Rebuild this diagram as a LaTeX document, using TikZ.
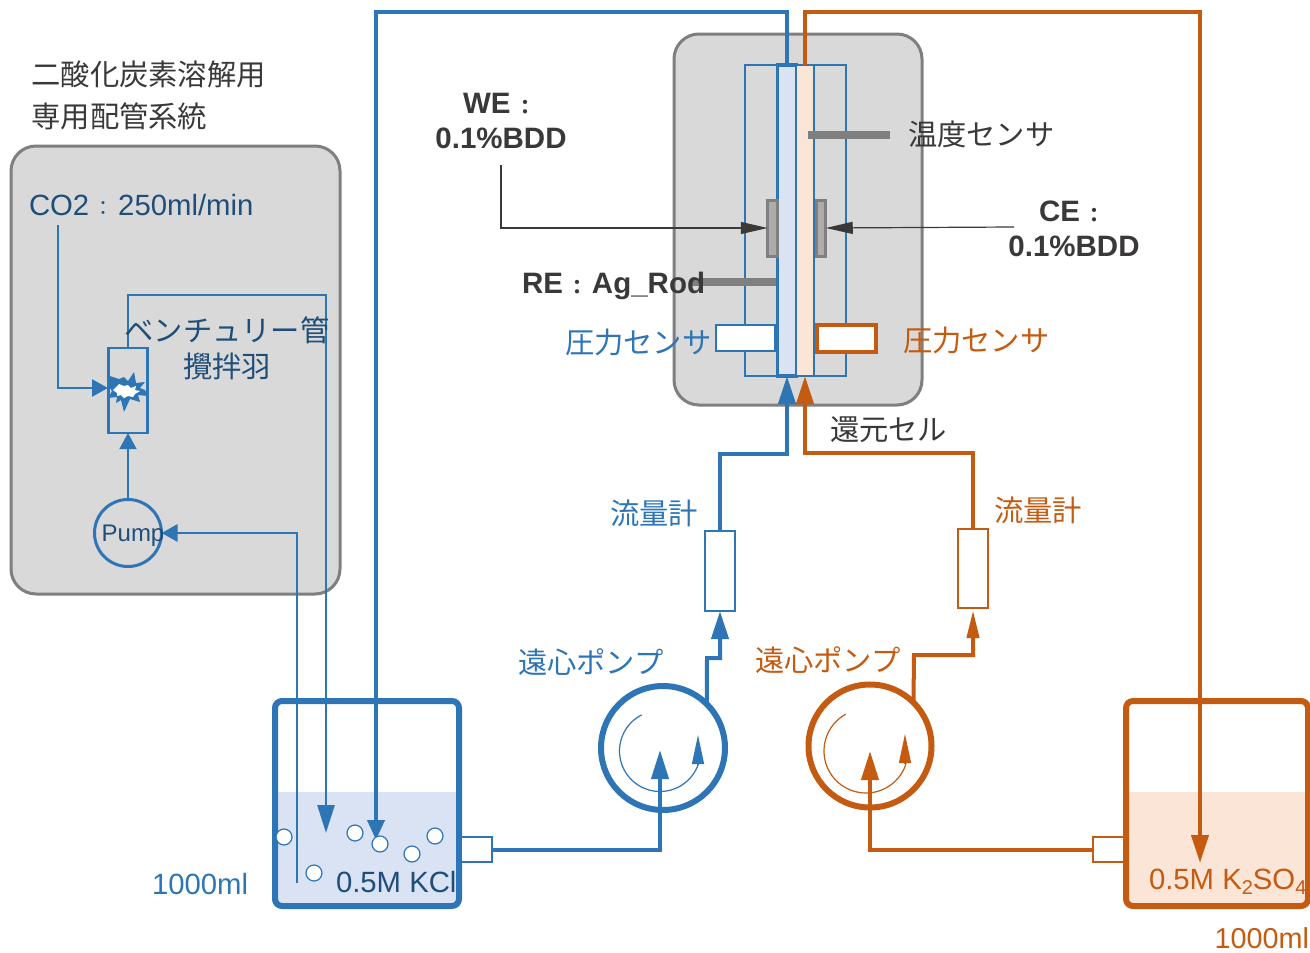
\documentclass[tikz,border=0pt]{standalone}
\usepackage{fontspec}
\setmainfont{Liberation Sans}
\newfontfamily\cjk{Noto Sans CJK JP}
\usetikzlibrary{arrows.meta}
\definecolor{bl}{HTML}{2E75B6}
\definecolor{or}{HTML}{C55A11}
\definecolor{lbl}{HTML}{DAE3F3}
\definecolor{lor}{HTML}{FBE5D6}
\definecolor{gbox}{HTML}{D9D9D9}
\definecolor{gline}{HTML}{7F7F7F}
\definecolor{dbl}{HTML}{1F4E79}
\definecolor{dk}{HTML}{3B3838}
\definecolor{elec}{HTML}{AFABAB}
\newcommand{\colonreg}{\makebox[29pt]{\fontsize{20}{20}\selectfont\cjk ：}}
\newcommand{\colonbold}{\makebox[29pt]{\raisebox{-1pt}{\fontsize{20}{20}\selectfont\cjk\bfseries ：}}}
\tikzset{
  every node/.style={inner sep=0pt,outer sep=0pt},
  panel/.style={draw=gline,fill=gbox,line width=3pt,rounded corners=25pt},
  boxn/.style 2 args={minimum width=#1pt,minimum height=#2pt},
  txt/.style={font=\fontsize{29.3}{34}\selectfont,anchor=base west},
  ctr/.style={font=\fontsize{29.3}{34}\selectfont,anchor=base},
  bold/.style={font=\fontsize{29.5}{34}\selectfont\bfseries},
  hd/.style 2 args={-{Triangle[width=#1pt,length=#2pt]}},
  tank/.style={line width=6pt,rounded corners=7pt},
  bub/.style={circle,draw=bl,fill=white,line width=1.2pt,minimum size=16pt},
  pumpc/.style={circle,line width=6pt,fill=white},
  bar/.style={fill=gline},
  electrode/.style={draw=gline,fill=elec,line width=3pt},
}
\begin{document}
\begin{tikzpicture}[x=1pt,y=-1pt]
\useasboundingbox (0,0) rectangle (1310,953);
% panels
\node[panel,boxn={329}{448}] (leftpanel) at (175.5,370) {};
\node[panel,boxn={248}{371}] (cellpanel) at (798,219.5) {};
% cell
\node[draw=bl,line width=2.7pt,boxn={101}{311}] (cell) at (795.5,220.5) {};
\node[draw=bl,fill=lbl,line width=3.2pt,boxn={19}{311}] (chB) at (787,220.5) {};
\node[draw=bl,fill=lor,line width=2.7pt,boxn={18}{311}] (chO) at (805,220.5) {};
\node[bar,boxn={82}{8}] (tempbar) at (849,135) {};
\node[bar,boxn={84}{8}] (rebar) at (734,282) {};
\node[electrode,boxn={9.5}{56}] (elL) at (772.5,228) {};
\node[electrode,boxn={9.5}{56}] (elR) at (821,228) {};
\node[draw=bl,fill=white,line width=2.7pt,boxn={59}{26}] (psB) at (745.5,338) {};
\node[draw=or,fill=white,line width=3.5pt,boxn={59}{27}] (psO) at (846.5,338.5) {};
% tanks
\node[fill=lbl,boxn={182}{112}] (waterB) at (367,848) {};
\node[fill=lor,boxn={181}{112}] (waterO) at (1218.5,848) {};
\node[draw=bl,tank,boxn={184}{205}] (tankB) at (367,803.5) {};
\node[draw=or,tank,boxn={182}{205}] (tankO) at (1217,803.5) {};
\node[draw=bl,fill=white,line width=2.7pt,boxn={31}{25}] (portB) at (476.5,849.5) {};
\node[draw=or,fill=white,line width=2.7pt,boxn={31}{25}] (portO) at (1108.5,849.5) {};
% pumps
\node[pumpc,draw=bl,minimum size=124pt] (pumpB) at (663,748) {};
\node[pumpc,draw=or,minimum size=123pt] (pumpO) at (870,746) {};
\draw[bl,line width=1.2pt] plot[domain=243:19,samples=50,variable=\t] ({660+40.5*cos(\t)},{751+40.5*sin(\t)});
\draw[or,line width=1.2pt] plot[domain=241:17,samples=50,variable=\t] ({866+42*cos(\t)},{751+42*sin(\t)});
\coordinate (arcB0) at (698,764);
\coordinate (arcB1) at (698,735);
\coordinate (arcO0) at (905,764);
\coordinate (arcO1) at (905,734);
\draw[bl,line width=1.2pt,hd={12}{29}] (arcB0) -- (arcB1);
\draw[or,line width=1.2pt,hd={12}{29}] (arcO0) -- (arcO1);
% flow meters
\node[draw=bl,fill=white,line width=2.7pt,boxn={30}{80}] (fmB) at (720,571) {};
\node[draw=or,fill=white,line width=2.7pt,boxn={30}{79}] (fmO) at (973,568.5) {};
% venturi and small pump
\node[draw=bl,line width=2.7pt,boxn={39}{85}] (venturi) at (128,390.5) {};
\node[circle,draw=bl,line width=3pt,minimum size=67pt] (minipump) at (128,533) {};
% burst
\fill[bl] (107,375) -- (119,379) -- (124,377) -- (128,381) -- (134,372) -- (136,383) -- (145,382) -- (140,388) -- (145,390) -- (148,396) -- (138,395) -- (140,402) -- (130,399) -- (124,412) -- (121,400) -- (116,403) -- (117,397) -- (108,398) -- (112,391) -- (108,385) -- cycle;
\fill[white] (113,390) -- (119,384) -- (124,386) -- (128,385) -- (131,388) -- (136,386) -- (135,390) -- (140,391) -- (135,394) -- (133,397) -- (128,396) -- (124,398) -- (121,395) -- (117,396) -- (117,393) -- cycle;
% blue pipes
\coordinate (co2) at (58,225);
\coordinate (co2c) at (58,388);
\coordinate (co2e) at (108,388);
\coordinate (vent1) at (326,295);
\coordinate (ventEnd) at (326,833);
\coordinate (suck) at (297,883);
\coordinate (topB) at (376,12);
\coordinate (retB) at (376,840);
\coordinate (topO) at (1200,12);
\coordinate (retO) at (1200,863);
\coordinate (inB) at (660,750);
\coordinate (inO) at (870,751);
\coordinate (upB) at (787,454);
\coordinate (upO) at (805,453);
\coordinate (stepB) at (707,658);
\coordinate (stepO) at (914,655);
\coordinate (fmOin) at (973,610);
\draw[bl,line width=2.7pt,hd={17}{16}] (co2) -- (co2c) -- (co2e);
\draw[bl,line width=2.7pt,hd={17}{28}] (venturi.north) |- (vent1) -- (ventEnd);
\draw[bl,line width=1.5pt,hd={17}{16}] (minipump.north) -- (venturi.south);
\draw[bl,line width=2.7pt,hd={17}{16}] (suck) |- (minipump.east);
\draw[bl,line width=4pt,hd={17}{20}] (chB.north) |- (topB) -- (retB);
\draw[or,line width=4pt,hd={17}{28}] (chO.north) |- (topO) -- (retO);
\draw[bl,line width=4pt,hd={17}{29}] (portB.east) -| (inB);
\draw[or,line width=4pt,hd={17}{29}] (portO.west) -| (inO);
\draw[bl,line width=4pt,hd={17}{28}] (pumpB.45) -- (stepB) -| (fmB.south);
\draw[or,line width=4pt,hd={12}{28}] (pumpO.45) -- (stepO) -| (fmOin);
\draw[bl,line width=4pt,hd={17}{28}] (fmB.north) |- (upB) -- (chB.south);
\draw[or,line width=4pt,hd={17}{28}] (fmO.north) |- (upO) -- (chO.south);
% bubbles
\node[bub] (b1) at (284,837) {};
\node[bub] (b2) at (355,833) {};
\node[bub] (b3) at (380,844) {};
\node[bub] (b4) at (412,854) {};
\node[bub] (b5) at (435,836) {};
\node[bub] (b6) at (314,873) {};
% pointers
\coordinate (we0) at (501,165);
\coordinate (ce0) at (1014,227);
\draw[dk,line width=1.2pt,hd={12}{27}] (we0) |- (elL.west);
\draw[dk,line width=1.2pt,hd={12}{27}] (ce0) -- (elR.east);
% texts
\node[txt,text=dk] (t1) at (31.5,85) {\cjk 二酸化炭素溶解用};
\node[txt,text=dk] (t2) at (31.5,127) {\cjk 専用配管系統};
\node[txt,text=dbl] (t3) at (29,215) {CO2\colonreg 250ml/min};
\node[ctr,text=dbl] (t4) at (227,341) {\cjk ベンチュリー管};
\node[ctr,text=dbl] (t5) at (227,377) {\cjk 攪拌羽};
\node[anchor=base,text=dbl,font=\fontsize{24}{28}\selectfont] (t6) at (133,541) {Pump};
\node[txt,bold,text=dk] (t7) at (463,113) {WE\colonbold};
\node[ctr,bold,text=dk] (t8) at (501,148) {0.1\%BDD};
\node[txt,bold,text=dk] (t9) at (1039,221) {CE\colonbold};
\node[ctr,bold,text=dk] (t10) at (1074,256) {0.1\%BDD};
\node[txt,bold,text=dk] (t11) at (522,293) {RE\colonbold Ag\_Rod};
\node[txt,text=dk] (t12) at (908,145) {\cjk 温度センサ};
\node[txt,text=bl] (t13) at (565,353) {\cjk 圧力センサ};
\node[txt,text=or] (t14) at (903,351) {\cjk 圧力センサ};
\node[txt,text=dk] (t15) at (830,440) {\cjk 還元セル};
\node[txt,text=bl] (t16) at (610,524) {\cjk 流量計};
\node[txt,text=or] (t17) at (994,521) {\cjk 流量計};
\node[txt,text=bl] (t18) at (518,673) {\cjk 遠心ポンプ};
\node[txt,text=or] (t19) at (755,671) {\cjk 遠心ポンプ};
\node[txt,text=bl] (t20) at (152,894) {1000ml};
\node[anchor=base west,font=\fontsize{28.8}{34}\selectfont,text=or] (t21) at (1214.5,948) {1000ml};
\node[txt,text=dbl] (t22) at (336,892) {0.5M KCl};
\node[txt,text=or] (t23) at (1149,889) {0.5M K\raisebox{-0.2em}{\fontsize{20}{20}\selectfont 2}SO\raisebox{-0.2em}{\fontsize{20}{20}\selectfont 4}};
\end{tikzpicture}
\end{document}
